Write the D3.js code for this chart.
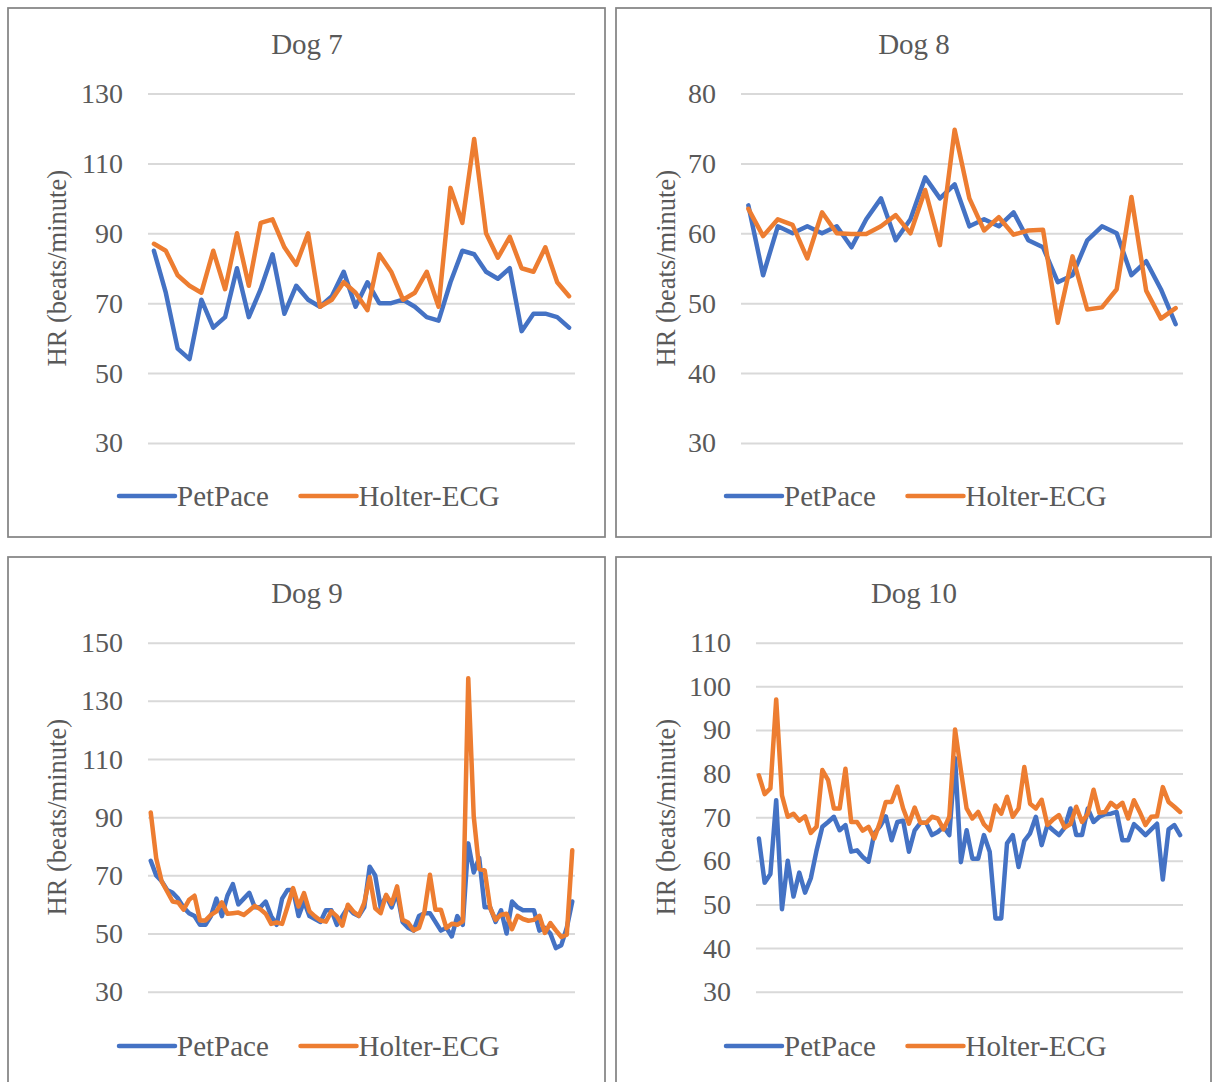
<!DOCTYPE html>
<html>
<head>
<meta charset="utf-8">
<script src="https://cdn.jsdelivr.net/npm/d3@7"></script>
<style>
  html, body { margin: 0; padding: 0; background: #ffffff; }
  svg { display: block; }
  text { font-family: "Liberation Serif", "Times New Roman", serif; fill: #595959; }
</style>
</head>
<body>
<svg id="chart" width="1212" height="1082"></svg>
<script>
// Heart rate readings per dog: PetPace collar vs Holter-ECG
const dogTitles = ["Dog 7", "Dog 8", "Dog 9", "Dog 10"];
const seriesNames = ["PetPace", "Holter-ECG"];

const dog7PetPace = [85,73,57,54,71,63,66,80,66,74,84,67,75,71,69,72,79,69,76,70,70,71,69,66,65,76,85,84,79,77,80,62,67,67,66,63];
const dog7Holter  = [87,85,78,75,73,85,74,90,75,93,94,86,81,90,69,71,76,73,68,84,79,71,73,79,69,103,93,117,90,83,89,80,79,86,76,72];

const dog8PetPace = [64,54,61,60,61,60,61,58,62,65,59,62,68,65,67,61,62,61,63,59,58,53,54,59,61,60,54,56,52,47];
const dog8Holter  = [63.5,59.6,62,61.2,56.4,63,60,59.9,59.9,61,62.6,60,66.2,58.3,74.8,65,60.4,62.3,59.8,60.4,60.5,47.2,56.7,49.1,49.4,52,65.2,51.8,47.8,49.3];

const dog9PetPace = [75,70,68,65,64,62,59,57,56,53,53,56,62,56,63,67,60,62,64,59,59,61,56,53,62,65,65,
                     56,61,56,55,54,58,58,53,56,59,57,56,59,73,70,59,63,59,64,54,52,51,56,57,57,54,51,
                     52,49,56,53,81,71,76,59,59,54,58,50,61,59,58,58,58,51,52,50,45,46,52,61];
const dog9Holter  = [91.6,75.9,67.9,64.5,61,60.7,58.2,61.6,63,54.5,54.5,56.4,57.6,60.7,56.8,57,57.2,56.4,57.9,59.5,58.4,56.8,53.3,53.8,53.3,59.3,65.6,
                     59.3,63.9,57.6,55.9,54.5,54.1,57.6,55.9,52.7,59.9,57.6,56.1,60.5,69.4,58.7,57,63.3,60.2,66.2,54.7,53.8,51.1,51.9,57.6,70.2,
                     58.2,58.2,51.9,53.4,53,54.2,137.8,90.3,72.2,71.7,58.8,54.7,56.5,56.8,51.5,56.1,55,54.4,54.7,56.1,50.2,53.6,51.1,48.8,49.6,78.6];

const dog10PetPace = [65.1,55,57,73.9,48.9,60,51.8,57.3,52.7,56,62.4,67.8,68.9,70.1,67,68.2,62.1,62.4,60.9,59.8,66.3,67.9,70.2,64.7,68.9,
                      69.2,62.1,67,68.7,68.7,65.9,66.6,67.8,65.9,83.5,59.7,67,60.5,60.5,65.9,62.1,46.8,46.8,64,65.9,58.6,64.6,66.3,70.1,63.6,
                      68.2,67,65.9,67.6,72,65.9,65.9,72,68.9,70.1,70.7,70.8,71.2,64.7,64.7,68.4,67.2,65.9,67.2,68.5,55.7,67.2,68.2,65.9];
const dog10Holter  = [79.6,75.3,76.6,97,75,70.1,70.8,69.2,70.2,66.4,67.8,80.8,78.5,72,72,81.1,68.9,68.9,66.9,67.8,65.1,68.9,73.5,73.5,77,
                      72,68.5,72.2,68.7,68.7,70.1,69.7,67.2,70.1,90.1,80.8,72,69.7,71.2,68.4,67,72.7,70.8,74.7,70.1,72,81.5,73.1,72,74,
                      68.2,69.5,70.5,67.6,68.4,72.4,68.9,70.8,76.3,71,71.2,73.3,72.2,73.3,69.7,73.9,71.2,68.2,70.1,70.2,76.9,73.5,72.4,71.2];

const dog7Ticks  = [30, 50, 70, 90, 110, 130];
const dog8Ticks  = [30, 40, 50, 60, 70, 80];
const dog9Ticks  = [30, 50, 70, 90, 110, 130, 150];
const dog10Ticks = [30, 40, 50, 60, 70, 80, 90, 100, 110];

const yTitle = "HR (beats/minute)";

// ---- layout (pixels) ----
const colors = ["#4472C4", "#ED7D31"];
const frames = [
  { x: 8,   y: 8,   w: 597, h: 529, plotL: 148, plotR: 575,  plotT: 93.5,  plotB: 443,   titleY: 54,  legendY: 496,  axisTitleX: 66 },
  { x: 616, y: 8,   w: 595, h: 529, plotL: 741, plotR: 1183, plotT: 93.5,  plotB: 443,   titleY: 54,  legendY: 496,  axisTitleX: 675 },
  { x: 8,   y: 557, w: 597, h: 529, plotL: 148, plotR: 575,  plotT: 642.7, plotB: 991.7, titleY: 603, legendY: 1046, axisTitleX: 66 },
  { x: 616, y: 557, w: 595, h: 529, plotL: 756, plotR: 1183, plotT: 642.7, plotB: 991.7, titleY: 603, legendY: 1046, axisTitleX: 675 }
];

const panels = [
  { title: dogTitles[0], series: [dog7PetPace,  dog7Holter],  ticks: dog7Ticks },
  { title: dogTitles[1], series: [dog8PetPace,  dog8Holter],  ticks: dog8Ticks },
  { title: dogTitles[2], series: [dog9PetPace,  dog9Holter],  ticks: dog9Ticks },
  { title: dogTitles[3], series: [dog10PetPace, dog10Holter], ticks: dog10Ticks }
];

const svg = d3.select("#chart");
svg.append("rect").attr("width", 1212).attr("height", 1082).attr("fill", "#ffffff");

panels.forEach((p, k) => {
  const f = frames[k];
  const g = svg.append("g");

  // chart frame
  g.append("rect")
    .attr("x", f.x).attr("y", f.y).attr("width", f.w).attr("height", f.h)
    .attr("fill", "#ffffff").attr("stroke", "#858585").attr("stroke-width", 1.75);

  const n = p.series[0].length;
  const x = d3.scalePoint().domain(d3.range(n)).range([f.plotL, f.plotR]).padding(0.5);
  const y = d3.scaleLinear().domain(d3.extent(p.ticks)).range([f.plotB, f.plotT]);

  // value axis with horizontal gridlines
  const axis = d3.axisLeft(y)
    .tickValues(p.ticks)
    .tickFormat(d3.format("d"))
    .tickSize(-(f.plotR - f.plotL))
    .tickPadding(25);

  const ax = g.append("g")
    .attr("transform", `translate(${f.plotL},0)`)
    .call(axis);
  ax.select(".domain").remove();
  ax.selectAll(".tick line").attr("stroke", "#D9D9D9").attr("stroke-width", 2);
  ax.selectAll(".tick text")
    .attr("font-size", 28)
    .attr("font-family", "\"Liberation Serif\", \"Times New Roman\", serif")
    .attr("fill", "#595959");

  // chart title
  g.append("text")
    .attr("x", f.x + f.w / 2 + 0.5).attr("y", f.titleY)
    .attr("text-anchor", "middle")
    .attr("font-size", 29)
    .text(p.title);

  // vertical axis title
  g.append("text")
    .attr("transform", `translate(${f.axisTitleX},${(f.plotT + f.plotB) / 2}) rotate(-90)`)
    .attr("text-anchor", "middle")
    .attr("font-size", 26.5)
    .text(yTitle);

  // series lines
  const line = d3.line()
    .x((d, i) => x(i))
    .y(d => y(d));

  p.series.forEach((vals, s) => {
    g.append("path")
      .datum(vals)
      .attr("d", line)
      .attr("fill", "none")
      .attr("stroke", colors[s])
      .attr("stroke-width", 4.5)
      .attr("stroke-linejoin", "round")
      .attr("stroke-linecap", "round");
  });

  // legend
  const cx = f.x + f.w / 2 + 0.5;
  const legendItems = [
    { x1: cx - 188, x2: cx - 132, tx: cx - 130 },
    { x1: cx - 6.5, x2: cx + 49.5, tx: cx + 51.5 }
  ];
  legendItems.forEach((it, s) => {
    g.append("line")
      .attr("x1", it.x1).attr("x2", it.x2)
      .attr("y1", f.legendY).attr("y2", f.legendY)
      .attr("stroke", colors[s]).attr("stroke-width", 4.5)
      .attr("stroke-linecap", "round");
    g.append("text")
      .attr("x", it.tx).attr("y", f.legendY + 9.5)
      .attr("font-size", 29)
      .text(seriesNames[s]);
  });
});
</script>
</body>
</html>
